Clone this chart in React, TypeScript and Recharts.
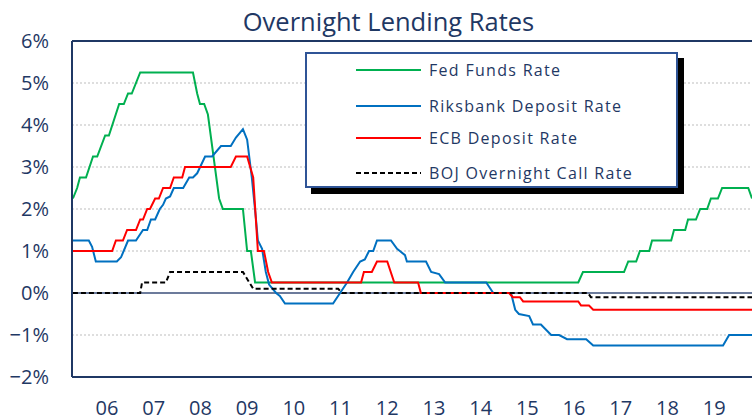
import React from "react";
import {
  LineChart,
  Line,
  XAxis,
  YAxis,
  ReferenceLine,
  Legend,
} from "recharts";

// page has its own 8px margin; take it off so the chart can fill the window
document.body.style.margin = "0";
document.body.style.overflow = "hidden";

// values: [decimal year, rate %]
const fedFunds: [number, number][] = [
  [2005.77, 2.25], [2005.86, 2.5], [2005.92, 2.75], [2006.05, 2.75], [2006.2, 3.25],
  [2006.29, 3.25], [2006.46, 3.75], [2006.54, 3.75], [2006.76, 4.5], [2006.86, 4.5],
  [2006.95, 4.75], [2007.03, 4.75], [2007.21, 5.25], [2008.34, 5.25], [2008.43, 4.75],
  [2008.49, 4.5], [2008.58, 4.5], [2008.66, 4.25], [2008.9, 2.25], [2008.98, 2.0],
  [2009.41, 2.0], [2009.5, 1.0], [2009.58, 1.0], [2009.67, 0.25], [2016.59, 0.25],
  [2016.69, 0.5], [2017.57, 0.5], [2017.66, 0.75], [2017.83, 0.75], [2017.91, 1.0],
  [2018.11, 1.0], [2018.17, 1.25], [2018.58, 1.25], [2018.64, 1.5], [2018.88, 1.5],
  [2018.94, 1.75], [2019.11, 1.75], [2019.2, 2.0], [2019.35, 2.0], [2019.43, 2.25],
  [2019.58, 2.25], [2019.67, 2.5], [2020.23, 2.5], [2020.31, 2.25],
];

const riksbank: [number, number][] = [
  [2005.77, 1.25], [2006.11, 1.25], [2006.18, 1.1], [2006.26, 0.75], [2006.71, 0.75],
  [2006.8, 0.85], [2006.95, 1.25], [2007.12, 1.25], [2007.27, 1.5], [2007.36, 1.5],
  [2007.44, 1.75], [2007.53, 1.75], [2007.63, 2.0], [2007.7, 2.1], [2007.76, 2.25],
  [2007.85, 2.3], [2007.93, 2.5], [2008.13, 2.5], [2008.26, 2.75], [2008.34, 2.75],
  [2008.43, 2.85], [2008.6, 3.25], [2008.75, 3.25], [2008.94, 3.5], [2009.15, 3.5],
  [2009.26, 3.7], [2009.41, 3.9], [2009.5, 3.65], [2009.6, 2.75], [2009.69, 1.75],
  [2009.73, 1.25], [2009.82, 1.05], [2009.9, 0.5], [2009.97, 0.2], [2010.12, 0.0],
  [2010.2, -0.07], [2010.31, -0.25], [2011.34, -0.25], [2011.49, 0.0], [2011.64, 0.25],
  [2011.77, 0.5], [2011.92, 0.75], [2012.02, 0.8], [2012.11, 1.0], [2012.2, 1.0],
  [2012.28, 1.25], [2012.58, 1.25], [2012.71, 1.05], [2012.77, 1.0], [2012.88, 0.9],
  [2012.92, 0.75], [2013.33, 0.75], [2013.44, 0.5], [2013.61, 0.45], [2013.74, 0.25],
  [2014.62, 0.25], [2014.77, 0.0], [2015.15, 0.0], [2015.24, -0.4], [2015.32, -0.5],
  [2015.54, -0.55], [2015.62, -0.75], [2015.79, -0.75], [2016.01, -1.0], [2016.18, -1.0],
  [2016.35, -1.1], [2016.76, -1.1], [2016.91, -1.25], [2019.69, -1.25], [2019.82, -1.0],
  [2020.31, -1.0],
];

const ecb: [number, number][] = [
  [2005.77, 1.0], [2006.61, 1.0], [2006.69, 1.25], [2006.84, 1.25], [2006.93, 1.5],
  [2007.12, 1.5], [2007.21, 1.75], [2007.27, 1.75], [2007.36, 2.0], [2007.42, 2.0],
  [2007.53, 2.25], [2007.61, 2.25], [2007.7, 2.5], [2007.85, 2.5], [2007.93, 2.75],
  [2008.11, 2.75], [2008.17, 3.0], [2009.15, 3.0], [2009.26, 3.25], [2009.5, 3.25],
  [2009.63, 2.75], [2009.73, 1.0], [2009.86, 1.0], [2009.95, 0.5], [2010.03, 0.25],
  [2011.94, 0.25], [2012.0, 0.5], [2012.17, 0.5], [2012.28, 0.75], [2012.5, 0.75],
  [2012.65, 0.25], [2013.16, 0.25], [2013.22, 0.0], [2015.11, 0.0], [2015.19, -0.1],
  [2015.34, -0.1], [2015.41, -0.2], [2016.59, -0.2], [2016.65, -0.3], [2016.82, -0.3],
  [2016.91, -0.4], [2020.31, -0.4],
];

const boj: [number, number][] = [
  [2005.77, 0], [2007.21, 0], [2007.25, 0.25], [2007.76, 0.25], [2007.85, 0.5],
  [2009.41, 0.5], [2009.52, 0.3], [2009.63, 0.1], [2011.45, 0.1], [2011.53, 0],
  [2016.8, 0], [2016.86, -0.1], [2020.31, -0.1],
];

const years = [2006, 2007, 2008, 2009, 2010, 2011, 2012, 2013, 2014, 2015, 2016, 2017, 2018, 2019];
const yTicks = [-2, -1, 0, 1, 2, 3, 4, 5, 6];
const gridValues = [-1, 1, 2, 3, 4, 5];

const NAVY = "#1f3864";
const FONT = "'Open Sans', 'Noto Sans', sans-serif";

const toRows = (pts: [number, number][]) => pts.map(([t, v]) => ({ t, v }));

const series = [
  { name: "Fed Funds Rate", data: toRows(fedFunds), color: "#00b050", dash: undefined },
  { name: "Riksbank Deposit Rate", data: toRows(riksbank), color: "#0070c0", dash: undefined },
  { name: "ECB Deposit Rate", data: toRows(ecb), color: "#ff0000", dash: undefined },
  { name: "BOJ Overnight Call Rate", data: toRows(boj), color: "#000000", dash: "5 3" },
];

const legendRows = [16, 52, 84, 119];

function LegendBox() {
  return (
    <div
      style={{
        position: "relative",
        width: 369,
        height: 132,
        background: "#fff",
        border: "2px solid #2f5496",
        boxShadow: "6px 6px 0 #000",
        fontFamily: FONT,
      }}
    >
      {series.map((s, i) => (
        <div
          key={s.name}
          style={{ position: "absolute", left: 0, top: legendRows[i] - 12, height: 24, display: "flex", alignItems: "center" }}
        >
          <svg width={116} height={24} style={{ display: "block" }}>
            <line x1={49} x2={114} y1={12} y2={12} stroke={s.color} strokeWidth={2} strokeDasharray={s.dash} />
          </svg>
          <span style={{ marginLeft: 6, fontSize: 16, letterSpacing: 1.3, color: NAVY, whiteSpace: "nowrap" }}>
            {s.name}
          </span>
        </div>
      ))}
    </div>
  );
}

export default function App() {
  return (
    <div style={{ position: "relative", width: 752, height: 418, overflow: "hidden" }}>
      <div
        style={{
          position: "absolute",
          left: 0,
          top: 8,
          width: 777,
          textAlign: "center",
          fontFamily: FONT,
          fontSize: 25.5,
          lineHeight: "26px",
          color: NAVY,
        }}
      >
        Overnight Lending Rates
      </div>
      <LineChart width={752} height={418} margin={{ top: 41, right: 0, bottom: 0, left: 16 }}>
        <XAxis
          type="number"
          dataKey="t"
          domain={[2005.75, 2020.31]}
          ticks={years.map((y) => y + 0.5)}
          tickFormatter={(t: number) => String(Math.floor(t) % 100).padStart(2, "0")}
          allowDataOverflow
          height={41}
          tickLine={false}
          tickSize={0}
          tickMargin={24}
          axisLine={{ stroke: NAVY, strokeWidth: 2 }}
          tick={{ fontFamily: FONT, fontSize: 20, fill: NAVY }}
        />
        <YAxis
          type="number"
          domain={[-2, 6]}
          ticks={yTicks}
          tickFormatter={(v: number) => `${v < 0 ? "\u2212" + Math.abs(v) : v}%`}
          width={56}
          tickLine={false}
          tickSize={0}
          tickMargin={23}
          axisLine={{ stroke: NAVY, strokeWidth: 2 }}
          tick={{ fontFamily: FONT, fontSize: 20, fill: NAVY }}
        />
        {gridValues.map((g) => (
          <ReferenceLine key={g} y={g} stroke="#bdbdbd" strokeDasharray="2 2" strokeWidth={1} />
        ))}
        <ReferenceLine y={6} stroke={NAVY} strokeWidth={2} />
        <ReferenceLine y={0} stroke="#3b4f7a" strokeWidth={1.5} />
        {series.map((s) => (
          <Line
            key={s.name}
            data={s.data}
            dataKey="v"
            name={s.name}
            type="linear"
            stroke={s.color}
            strokeWidth={2}
            strokeDasharray={s.dash}
            dot={false}
            activeDot={false}
            isAnimationActive={false}
          />
        ))}
        <Legend
          layout="vertical"
          align="center"
          verticalAlign="middle"
          wrapperStyle={{ left: 305, top: 52, width: 373, height: 136 }}
          content={() => <LegendBox />}
        />
      </LineChart>
    </div>
  );
}
